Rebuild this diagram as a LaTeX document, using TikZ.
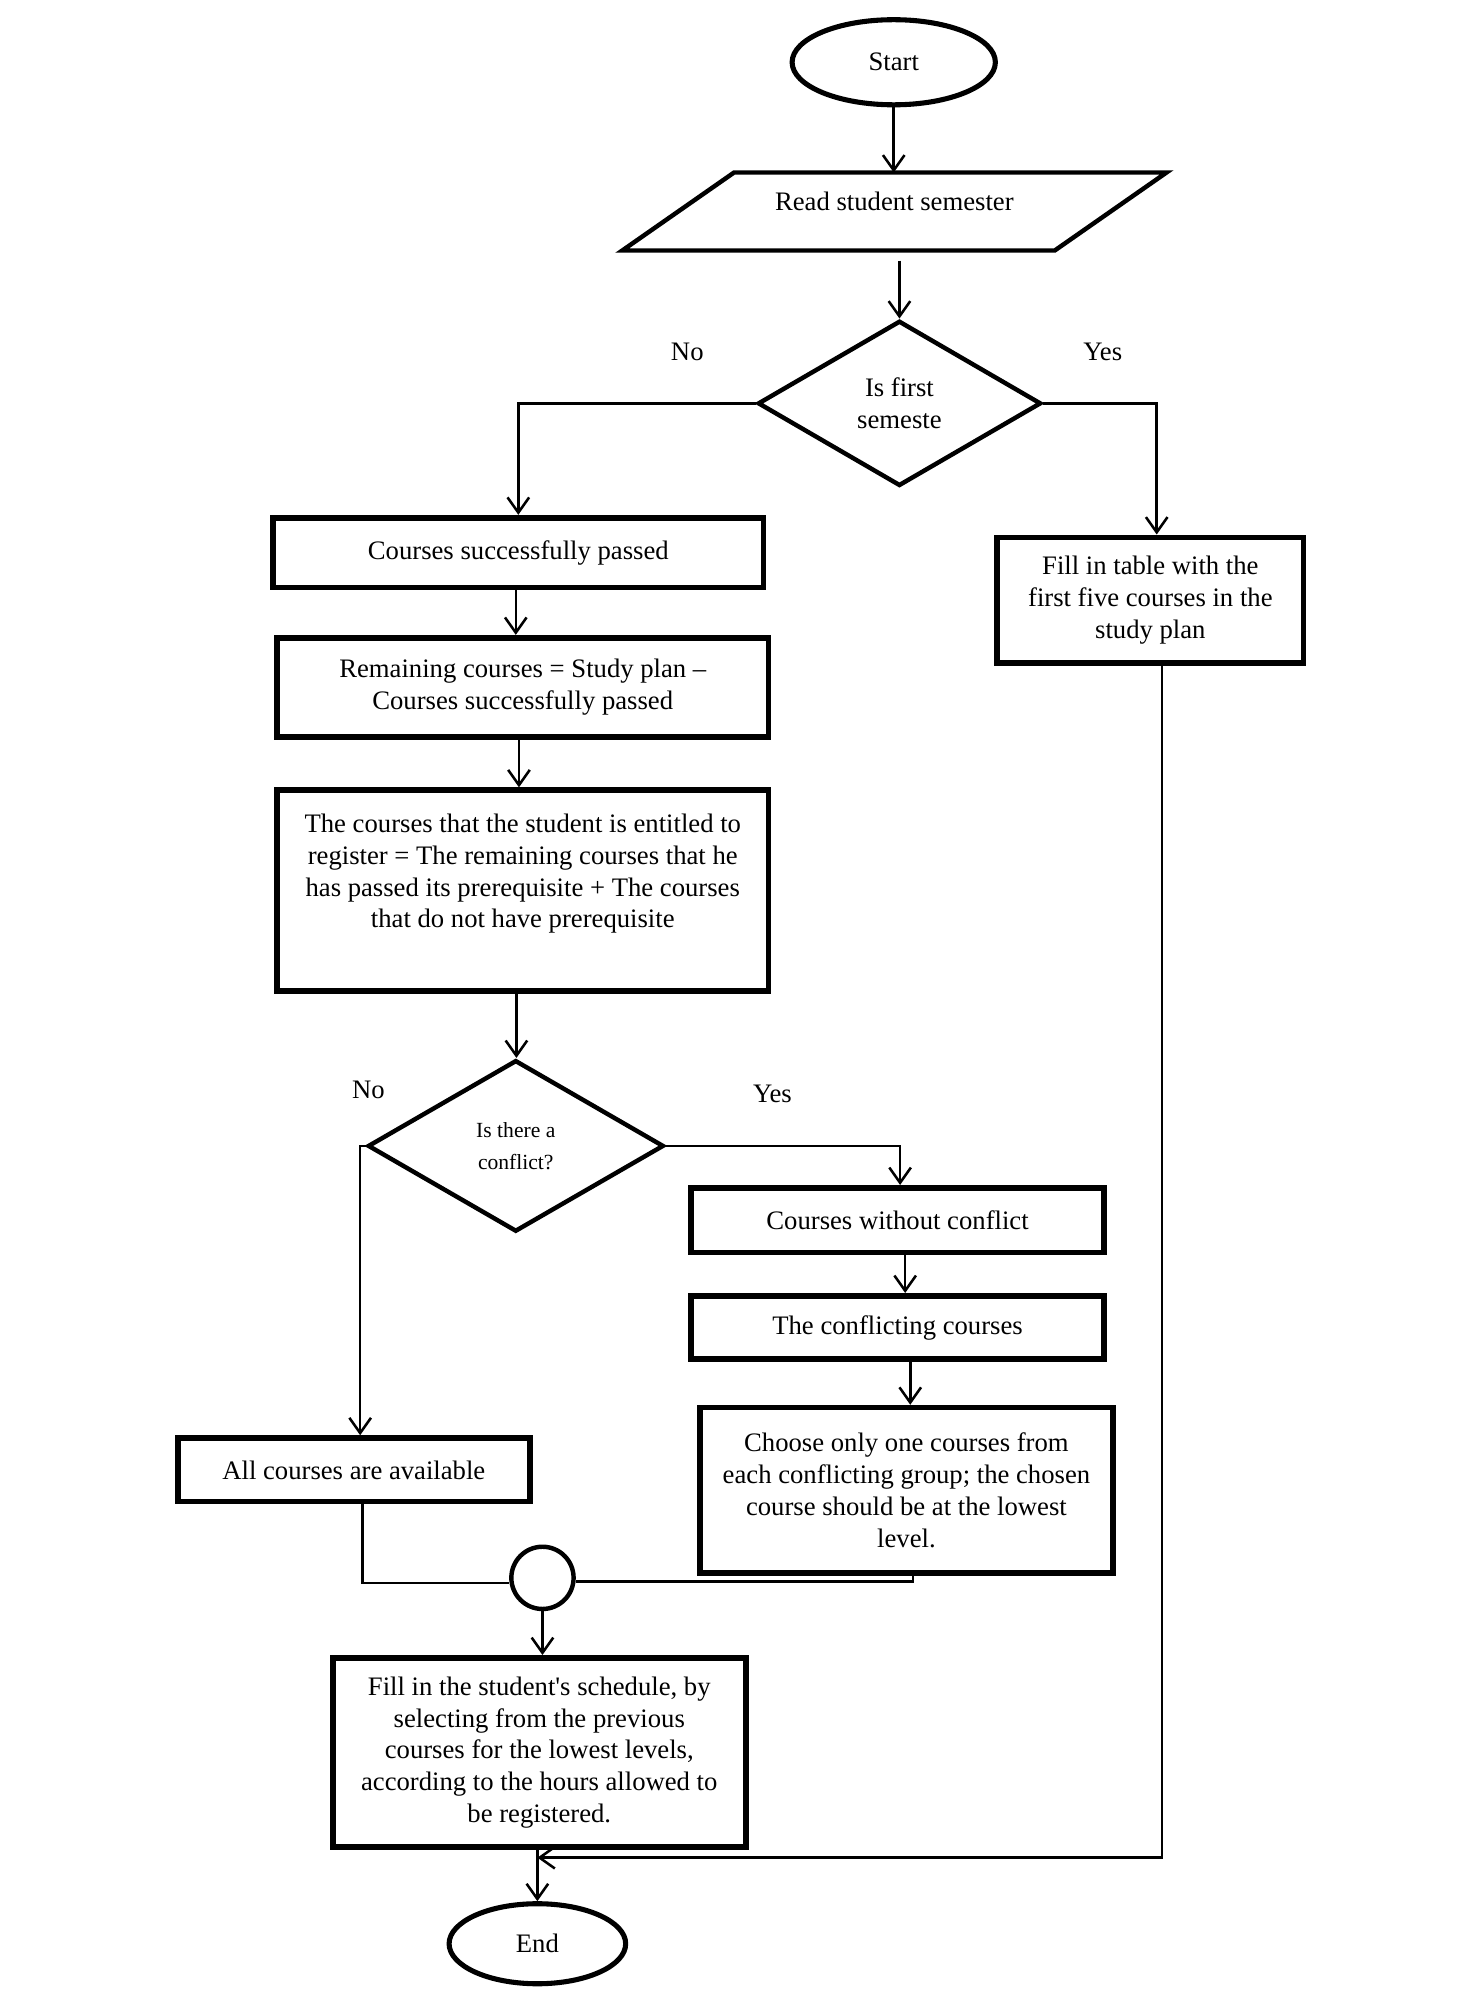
\documentclass[tikz,border=0pt]{standalone}
\usepackage{fontspec}
\setmainfont{Liberation Serif}
\usetikzlibrary{shapes.geometric,arrows.meta}

\begin{document}
\begin{tikzpicture}[x=1pt,y=-1pt,font=\fontsize{21}{25}\selectfont,
blk/.style n args={2}{draw,line width=4.5pt,rectangle,minimum width=#1,minimum height=#2,align=center,inner sep=0pt},
dec/.style n args={2}{draw,line width=3.5pt,diamond,aspect=1.7,minimum width=#1,minimum height=#2,align=center,inner sep=0pt},
term/.style n args={2}{draw,line width=4pt,ellipse,minimum width=#1,minimum height=#2,inner sep=0pt},
arr/.style={line width=2pt,-{Straight Barb[length=12pt,width=17pt]}},
ln/.style={line width=2pt}]
\useasboundingbox (0,0) rectangle (1152,1568);
\node[term={160}{67}] (start) at (703.5,49) {Start};
\node[minimum width=340,minimum height=61,inner sep=0pt,text depth=16pt] (read) at (704,166.5) {Read student semester};
\draw[line width=3.5pt] ([xshift=44pt]read.north west) -- ([xshift=44pt]read.north east)
   -- ([xshift=-44pt]read.south east) -- ([xshift=-44pt]read.south west) -- cycle;
\node[dec={223}{130}] (d1) at (708,317.5) {Is first\\semeste};
\node (no1) at (541,277) {No};
\node (yes1) at (868,277) {Yes};
\node[blk={386}{55}] (passed) at (408,435) {Courses successfully passed};
\node[blk={387}{78}] (remain) at (411.5,541) {Remaining courses = Study plan –\\Courses successfully passed};
\node[blk={387}{158}] (entit) at (411.5,701) {The courses that the student is entitled to\\register = The remaining courses that he\\has passed its prerequisite + The courses\\that do not have prerequisite\\[6pt]\mbox{}};
\node[blk={241}{99}] (table) at (905.5,472.5) {Fill in table with the\\first five courses in the\\study plan};
\node[dec={233}{135},font=\fontsize{17}{25}\selectfont] (d2) at (406,902) {Is there a\\conflict?};
\node (no2) at (290,858) {No};
\node (yes2) at (608,861) {Yes};
\node[blk={325}{51}] (noconf) at (706.5,960.5) {Courses without conflict};
\node[blk={325}{50}] (confl) at (706.5,1045) {The conflicting courses};
\node[blk={325}{130}] (choose) at (713.5,1173) {Choose only one courses from\\each conflicting group; the chosen\\course should be at the lowest\\level.};
\node[blk={277}{50}] (all) at (278.5,1157) {All courses are available};
\node[draw,circle,line width=3.5pt,minimum size=49,inner sep=0pt] (join) at (427,1242) {};
\node[blk={325}{149}] (sched) at (424.5,1379.5) {Fill in the student\textquotesingle s schedule, by\\selecting from the previous\\courses for the lowest levels,\\according to the hours allowed to\\be registered.};
\node[term={139}{63}] (end) at (423,1530) {End};
% connectors
\draw[arr] (start.south) -- (start.south |- read.north);
\draw[arr] ([yshift=-8pt]d1.north |- read.south) -- (d1.north);
\draw[arr] (d1.west) -| (passed.north);
\draw[arr] (d1.east) -| ([xshift=5pt]table.north);
\foreach \a/\b/\s in {passed/remain/-2,remain/entit/-3,entit/d2/-5,noconf/confl/6,confl/choose/10}
   \draw[arr] ([xshift=\s pt]\a.south) -- ([xshift=\s pt]\a.south |- \b.north);
\draw[arr] (d2.west) -| ([xshift=5pt]all.north);
\draw[arr] (d2.east) -| ([xshift=2pt]noconf.north);
\draw[ln] ([xshift=7pt]all.south) |- ([yshift=-4pt]join.west);
\draw[ln] ([xshift=5pt]choose.south) |- ([yshift=-3pt]join.east);
\draw[arr] (join.south) -- (join.south |- sched.north);
\draw[arr] (end.north |- sched.south) -- (end.north);
\draw[arr] ([xshift=9pt]table.south) |- ([yshift=-6pt]end.north |- sched.south);
\end{tikzpicture}
\end{document}
